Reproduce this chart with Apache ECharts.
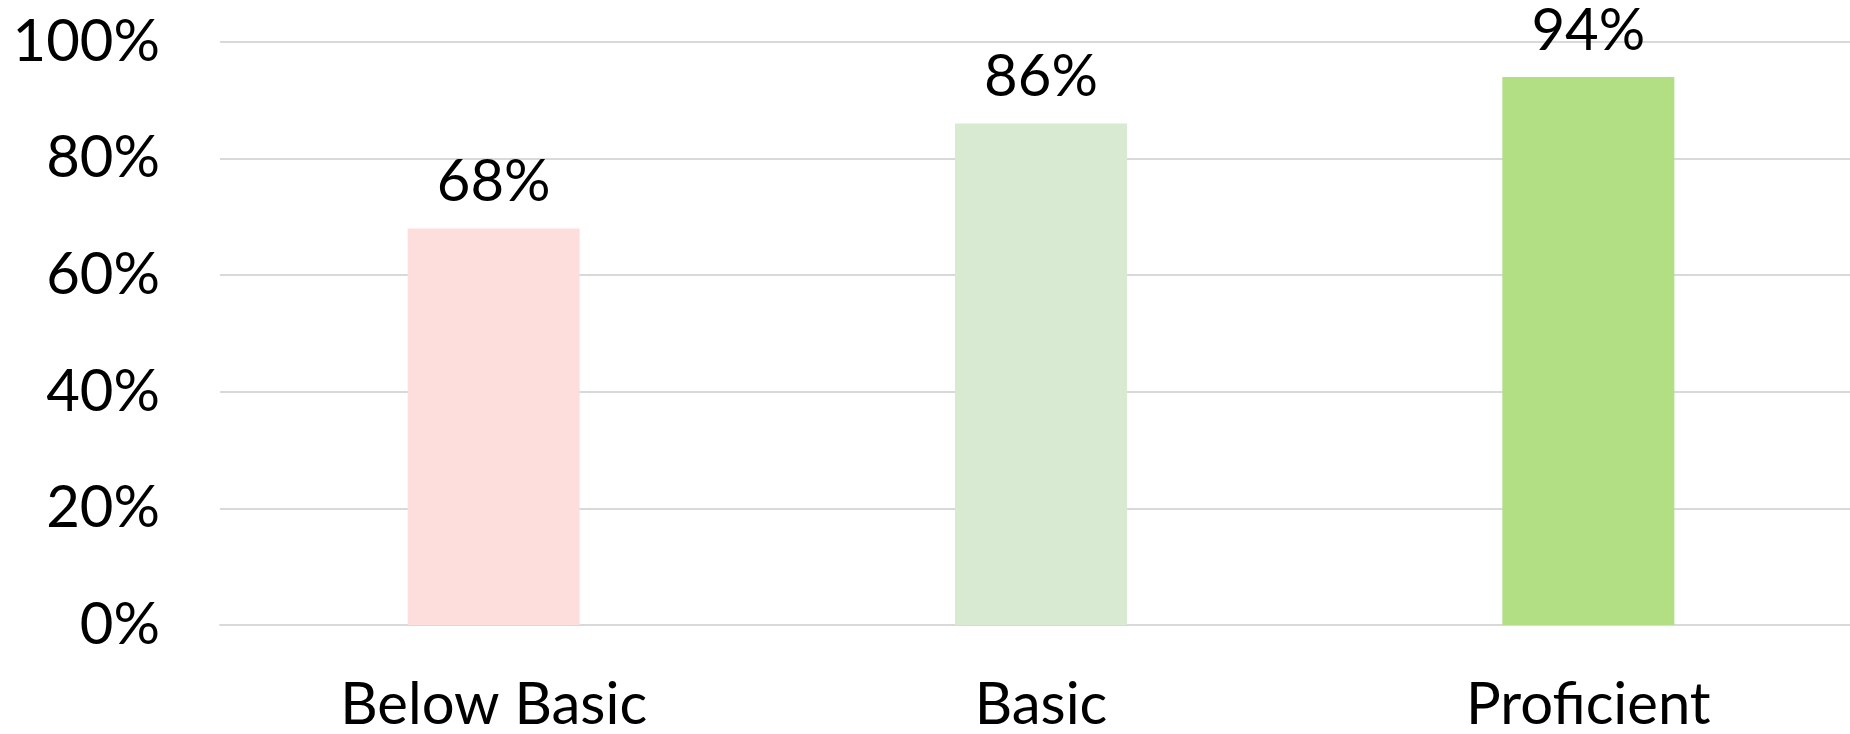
<!DOCTYPE html>
<html>
<head>
<meta charset="utf-8">
<script src="https://cdn.jsdelivr.net/npm/echarts@6/dist/echarts.min.js"></script>
<style>
  html, body { margin: 0; padding: 0; background: #ffffff; overflow: hidden; }
  /* the plot area runs slightly past the right edge of the window */
  #chart { width: 1862px; height: 734px; }
</style>
</head>
<body>
<div id="chart"></div>
<script>
// Share of students by performance level
const categories = ['Below Basic', 'Basic', 'Proficient'];
const values = [68, 86, 94];
const barColors = ['#FDDEDD', '#D9EAD3', '#B2DF84'];
const yTicks = [0, 20, 40, 60, 80, 100];

const FONT = 'Lato';
const chart = echarts.init(document.getElementById('chart'), null, { renderer: 'canvas' });

chart.setOption({
  animation: false,
  backgroundColor: '#ffffff',
  grid: { left: 220, right: 0, top: 42, bottom: 107, containLabel: false },
  xAxis: {
    type: 'category',
    data: categories,
    axisLine: { show: true, lineStyle: { color: '#D9D9D9', width: 2 } },
    axisTick: { show: false },
    axisLabel: { color: '#000000', fontFamily: FONT, fontSize: 58, margin: 51 }
  },
  yAxis: {
    type: 'value',
    min: yTicks[0],
    max: yTicks[yTicks.length - 1],
    interval: 20,
    axisLine: { show: false },
    axisTick: { show: false },
    splitLine: { lineStyle: { color: '#D9D9D9', width: 2 } },
    axisLabel: {
      color: '#000000', fontFamily: FONT, fontSize: 58, margin: 60,
      formatter: v => v + '%'
    }
  },
  series: [{
    type: 'bar',
    barWidth: 172,
    data: values.map((v, i) => ({ value: v, itemStyle: { color: barColors[i] } })),
    label: {
      show: true,
      position: 'top',
      distance: 17,
      color: '#000000',
      fontFamily: FONT,
      fontSize: 58,
      formatter: p => p.value + '%'
    }
  }]
});
</script>
</body>
</html>
